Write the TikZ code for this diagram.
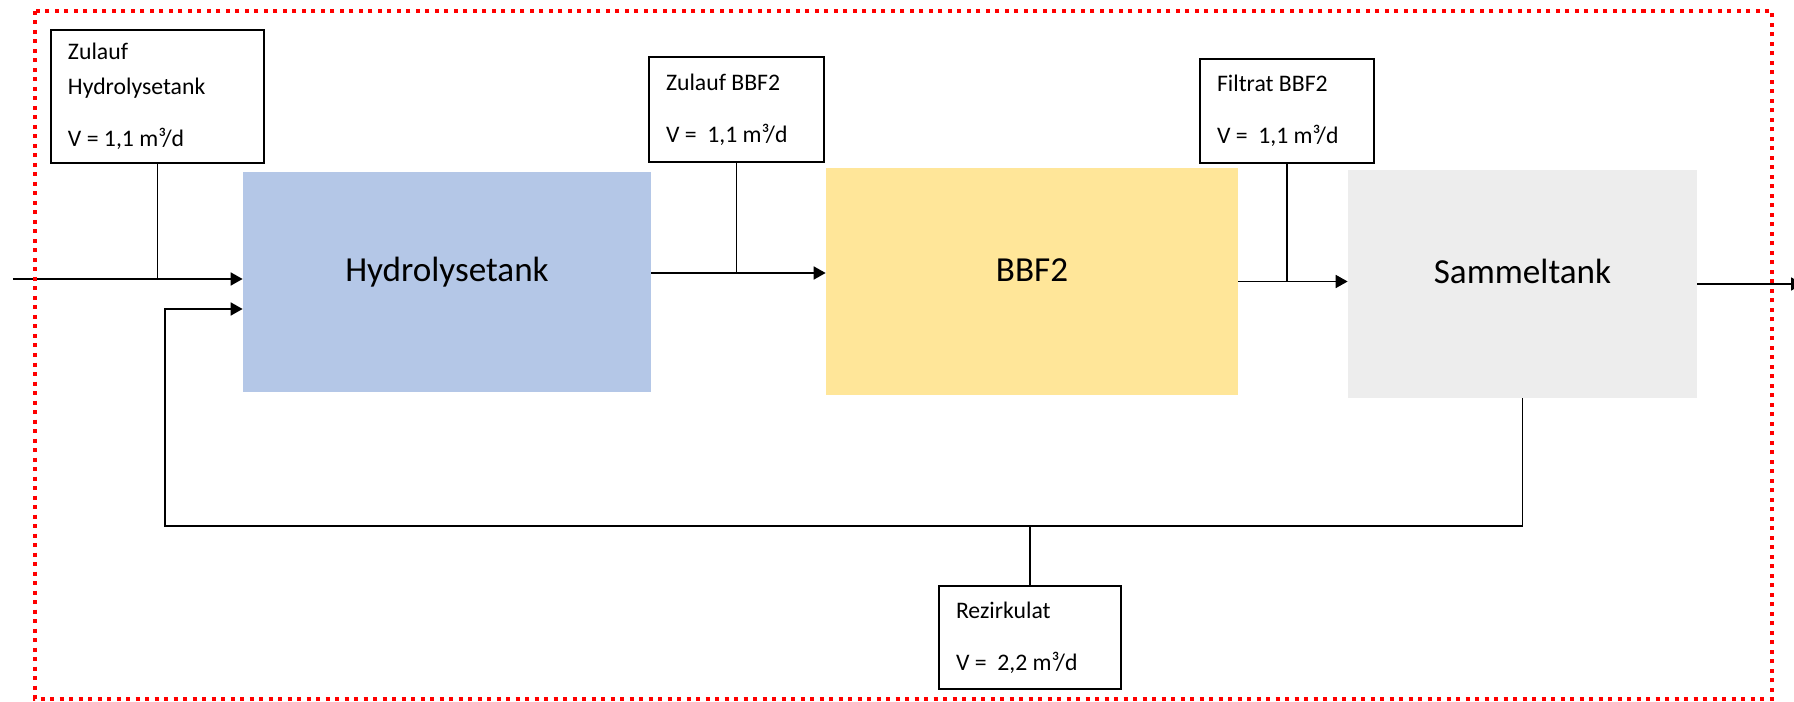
\documentclass[tikz,border=0pt]{standalone}
\usepackage{fontspec}
\setmainfont{Carlito}
\usetikzlibrary{arrows.meta}

\definecolor{tankblue}{HTML}{B4C7E7}
\definecolor{tankyellow}{HTML}{FFE699}
\definecolor{tankgrey}{HTML}{EDEDED}

\tikzset{
    tank/.style={rectangle, font=\fontsize{20}{24}\selectfont, text height=0.3cm, text depth=0.3cm},
    info/.style={rectangle, draw=black, line width=1pt, fill=white, align=flush left, inner xsep=0.34cm, font=\fontsize{13.5}{20}\selectfont},
    pipe/.style={line width=1pt},
    flow/.style={line width=1pt, -{Triangle[length=0.24cm, width=0.26cm]}}
}

\begin{document}
\begin{tikzpicture}
    \useasboundingbox (0, 0) rectangle (35.88, -14.04);

    \node[tank, fill=tankblue, minimum width=8.16cm, minimum height=4.40cm] (hyd) at (8.94, -5.64) {Hydrolysetank};
    \node[tank, fill=tankyellow, minimum width=8.24cm, minimum height=4.54cm] (bbf) at (20.64, -5.63) {BBF2};
    \node[tank, fill=tankgrey, minimum width=6.98cm, minimum height=4.56cm] (sam) at (30.45, -5.68) {Sammeltank};

    \node[info, text width=3.58cm, minimum height=2.66cm] (zh) at (3.15, -1.93) {Zulauf\\Hydrolysetank\\[0.34cm]V = 1,1 m³/d};
    \node[info, text width=2.82cm, minimum height=2.10cm] (zb) at (14.73, -2.19) {Zulauf BBF2\\[0.34cm]V = \ 1,1 m³/d};
    \node[info, text width=2.80cm, minimum height=2.08cm] (fb) at (25.74, -2.22) {Filtrat BBF2\\[0.34cm]V = \ 1,1 m³/d};
    \node[info, text width=2.96cm, minimum height=2.06cm] (rz) at (20.60, -12.75) {Rezirkulat\\[0.34cm]V = \ 2,2 m³/d};

    \coordinate (in) at (0.26, -5.58);
    \coordinate (h2b) at ([yshift=0.18cm]hyd.east);
    \coordinate (hin) at ([yshift=-0.54cm]hyd.west);
    \coordinate (back) at (3.30, -10.52);
    \coordinate (out) at (36.06, -5.68);

    \draw[flow] (in) -- (in -| hyd.west);
    \draw[pipe] (zh.south) -- (zh.south |- in);
    \draw[flow] (h2b) -- (h2b -| bbf.west);
    \draw[pipe] (zb.south) -- (zb.south |- h2b);
    \draw[flow] (bbf.east) -- (bbf.east -| sam.west);
    \draw[pipe] (fb.south) -- (fb.south |- bbf.east);
    \draw[flow] (sam.east) -- (out);
    \draw[flow] (sam.south) |- (back) |- (hin);
    \draw[pipe] (rz.north) -- (rz.north |- back);

    \draw[red, line width=0.08cm, dash pattern=on 0.08cm off 0.11cm] (0.70, -0.22) rectangle (35.44, -13.98);

\end{tikzpicture}
\end{document}
